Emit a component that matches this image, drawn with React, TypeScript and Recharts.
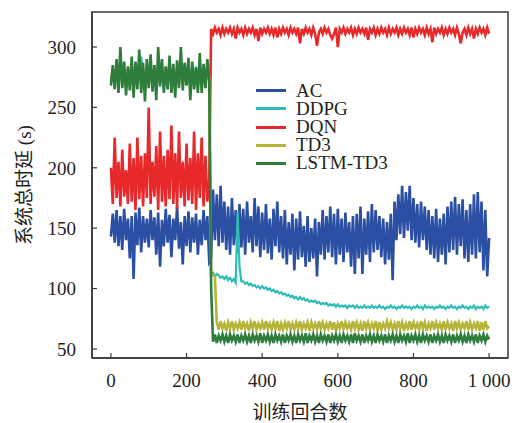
import React from 'react';
import { LineChart, Line, XAxis, YAxis, ReferenceArea, Legend } from 'recharts';

const FONT = "'Liberation Serif', 'Times New Roman', 'Noto Sans CJK SC', serif";
const TEXT = '#231f20';
const AXIS = '#3a3a3a';

const seriesNames = ['AC', 'DDPG', 'DQN', 'TD3', 'LSTM-TD3'];
const seriesColors = ['#2b50a3', '#2cbdb5', '#e8292b', '#b5b53a', '#2f7d3c'];
const seriesWidths = [2.6, 2.2, 2.6, 2.6, 2.6];
const xTicks = [0, 200, 400, 600, 800, 1000];
const yTicks = [50, 100, 150, 200, 250, 300];
const xTitle = '训练回合数';
const yTitle = '系统总时延 (s)';
const episodeStep = 5;

const acValues = [
  143, 162, 138, 165, 135, 160, 132, 166, 140, 158,
  125, 160, 108, 163, 136, 167, 130, 160, 138, 158,
  134, 165, 140, 159, 128, 163, 118, 157, 135, 166,
  138, 161, 126, 158, 140, 168, 133, 155, 120, 160,
  135, 164, 130, 159, 138, 162, 128, 157, 136, 165,
  140, 160, 122,
  125, 182, 140, 178, 135, 185, 138,
  172, 132, 168, 128, 175, 136, 165, 130, 170, 134,
  166, 128, 172, 138, 160, 130, 175, 135, 168, 126,
  163, 132, 170, 129, 158, 124, 166, 135, 172, 130,
  160, 125, 165, 120, 155, 128, 162, 115, 158, 124,
  164, 126, 152, 118, 160, 122, 150, 125, 158, 110,
  155, 128, 165, 124, 160, 130, 168, 126, 162, 120,
  166, 128, 158, 122, 163, 130, 155, 118, 160, 112,
  162, 125, 168, 112, 158, 128, 164, 122, 170, 130,
  165, 132, 160, 126, 158, 120, 155, 124, 162, 107,
  172, 140, 178, 145, 185, 142, 180, 148, 185, 140,
  175, 138, 170, 134, 172, 140, 168, 132, 165, 128,
  160, 125, 166, 122, 158, 128, 162, 120, 168, 130,
  172, 132, 176, 128, 170, 135, 174, 125, 165, 122,
  170, 128, 178, 125, 180, 130, 172, 115, 165, 110,
  142,
];

const ddpgValues = [
  270, 281, 268, 283, 272, 284, 269, 282, 267, 280,
  271, 283, 266, 282, 270, 284, 292, 281, 268, 283,
  272, 280, 269, 284, 270, 282, 267, 283, 271, 280,
  269, 284, 270, 281, 268, 283, 272, 280, 269, 282,
  271, 283, 268, 281, 270, 284, 267, 282, 271, 280,
  269, 283, 274,
  112, 113, 110, 112, 111, 109, 110,
  108, 110, 107, 109, 106, 108, 105,
  163, 118, 106,
  106, 104, 105, 103, 104, 102, 103, 101, 102, 100,
  102, 100, 101, 99, 100, 98, 99, 97, 98, 96,
  97, 95, 96, 94, 95, 93, 94, 92, 93, 91,
  93, 91, 92, 90, 91, 89, 90, 89, 90, 88,
  89, 87, 88, 87, 88, 86, 87, 86, 87, 85,
  87, 85, 86, 85, 86, 84, 86, 85, 86, 84,
  86, 84, 85, 84, 86, 84, 85, 84, 86, 84,
  85, 84, 86, 84, 85, 83, 85, 84, 86, 84,
  85, 83, 85, 84, 86, 84, 85, 84, 85, 83,
  85, 84, 86, 84, 85, 83, 86, 84, 85, 84,
  85, 83, 85, 84, 86, 84, 85, 83, 85, 84,
  86, 84, 85, 83, 85, 84, 86, 84, 85, 83,
  85, 84, 86, 83, 85, 84, 85, 83, 86, 84,
  85,
];

const dqnValues = [
  200, 170, 225, 175, 205, 168, 215, 176, 198, 170,
  220, 172, 208, 165, 225, 174, 210, 168, 212, 175,
  250, 170, 205, 176, 218, 165, 230, 172, 210, 168,
  215, 174, 235, 170, 212, 166, 230, 175, 205, 168,
  220, 173, 208, 170, 230, 165, 212, 175, 225, 168,
  210, 172, 190,
  315, 311, 316, 312, 315, 310, 316, 311, 315, 312,
  316, 311, 315, 307, 316, 312, 315, 310, 316, 311,
  315, 312, 316, 310, 315, 305, 316, 311, 315, 312,
  316, 311, 315, 310, 316, 308, 315, 311, 316, 312,
  315, 310, 316, 312, 315, 311, 316, 303, 315, 311,
  316, 312, 315, 310, 316, 311, 301, 312, 315, 311,
  316, 312, 315, 310, 307, 311, 316, 300, 315, 312,
  316, 311, 315, 312, 316, 310, 315, 311, 316, 312,
  315, 311, 316, 306, 315, 312, 316, 310, 315, 311,
  316, 312, 315, 310, 316, 311, 315, 312, 316, 310,
  315, 311, 316, 312, 315, 310, 316, 308, 315, 311,
  316, 312, 315, 310, 316, 311, 315, 304, 316, 311,
  315, 312, 316, 310, 315, 311, 316, 312, 315, 310,
  316, 311, 303, 312, 315, 310, 316, 311, 315, 307,
  315, 311, 316, 312, 315, 310, 316, 311,
];

const td3Values = [
  272, 282, 269, 284, 270, 283, 268, 281, 270, 282,
  269, 284, 267, 283, 271, 282, 270, 283, 266, 281,
  270, 282, 268, 283, 269, 281, 270, 284, 268, 282,
  271, 283, 269, 282, 267, 281, 270, 283, 268, 284,
  270, 282, 269, 283, 271, 281, 268, 282, 270, 283,
  268, 281, 275,
  112, 111, 110,
  72, 66, 73, 67, 71, 65, 72, 67, 73, 66,
  71, 67, 72, 66, 73, 67, 71, 65, 72, 67,
  73, 66, 71, 67, 72, 66, 73, 67, 71, 66,
  72, 67, 73, 65, 71, 66, 72, 67, 73, 66,
  71, 66, 72, 67, 73, 66, 71, 67, 72, 65,
  72, 67, 71, 66, 73, 67, 72, 66, 71, 67,
  73, 66, 72, 65, 71, 67, 73, 66, 72, 67,
  71, 66, 73, 67, 72, 66, 71, 65, 73, 67,
  72, 66, 71, 67, 73, 65, 72, 66, 71, 67,
  73, 67, 72, 66, 71, 66, 73, 67, 72, 65,
  71, 67, 73, 66, 72, 67, 71, 66, 73, 67,
  72, 65, 71, 67, 73, 66, 72, 67, 71, 66,
  73, 66, 72, 67, 71, 65, 73, 67, 72, 66,
  71, 67, 73, 66, 72, 66, 71, 67, 73, 65,
  72, 66, 73, 67, 69,
];

const lstmTd3Values = [
  268, 285, 265, 290, 262, 300, 266, 288, 260, 284,
  264, 292, 258, 288, 265, 298, 262, 287, 255, 290,
  266, 294, 263, 285, 256, 300, 268, 290, 262, 284,
  265, 293, 262, 286, 258, 289, 266, 300, 264, 287,
  268, 291, 256, 288, 265, 283, 262, 295, 262, 286,
  266, 290, 272,
  100,
  56, 62, 55, 61, 57, 62, 56, 61, 55, 62,
  57, 61, 56, 62, 55, 61, 57, 62, 56, 61,
  55, 62, 57, 61, 56, 63, 55, 61, 57, 62,
  56, 61, 55, 62, 57, 61, 56, 62, 55, 61,
  57, 62, 56, 61, 55, 62, 57, 61, 56, 63,
  55, 61, 57, 62, 56, 61, 55, 62, 57, 61,
  56, 62, 55, 61, 57, 62, 56, 61, 55, 62,
  57, 61, 56, 62, 55, 63, 57, 61, 56, 62,
  55, 61, 57, 62, 56, 61, 55, 62, 57, 61,
  56, 62, 55, 61, 57, 62, 56, 61, 55, 62,
  57, 61, 56, 63, 55, 61, 57, 62, 56, 61,
  55, 62, 57, 61, 56, 62, 55, 61, 57, 62,
  56, 61, 55, 62, 57, 61, 56, 62, 55, 61,
  57, 62, 56, 61, 55, 62, 57, 61, 56, 62,
  55, 61, 57, 62, 56, 61, 58,
];

const seriesValues = [acValues, ddpgValues, dqnValues, td3Values, lstmTd3Values];

const data = acValues.map((_, i) => {
  const row: Record<string, number> = { ep: i * episodeStep };
  seriesNames.forEach((name, s) => {
    row[name] = seriesValues[s][i];
  });
  return row;
});

const renderLegend = () => (
  <div style={{ fontFamily: FONT, fontSize: 19, color: TEXT }}>
    {seriesNames.map((n, i) => (
      <div key={n} style={{ display: 'flex', alignItems: 'center', height: 18.2 }}>
        <div style={{ width: 30, height: 3, background: seriesColors[i], marginRight: 10 }} />
        <span style={{ lineHeight: '18.2px', whiteSpace: 'nowrap' }}>{n}</span>
      </div>
    ))}
  </div>
);

const YTitle = (props: any) => {
  const vb = props.viewBox || { x: 0, y: 12, width: 92, height: 346 };
  const cx = 31;
  const cy = vb.y + vb.height / 2;
  return (
    <text x={cx} y={cy} transform={`rotate(-90 ${cx} ${cy})`} textAnchor="middle"
      fontFamily={FONT} fontSize={19} fill={TEXT}>{yTitle}</text>
  );
};

const XTitle = (props: any) => {
  const vb = props.viewBox || { x: 92, y: 358, width: 416, height: 60 };
  const cx = vb.x + vb.width / 2;
  return (
    <text x={cx} y={419} textAnchor="middle" fontFamily={FONT} fontSize={19} fill={TEXT}>{xTitle}</text>
  );
};

export default function App() {
  return (
    <div style={{ position: 'fixed', left: 0, top: 0, width: 517, height: 423, background: '#fff' }}>
      <LineChart width={517} height={423} data={data} margin={{ top: 12, right: 9, bottom: 5, left: 0 }}>
        <XAxis
          dataKey="ep"
          type="number"
          domain={[-50, 1050]}
          ticks={xTicks}
          allowDataOverflow
          height={60}
          tickSize={-5}
          tickMargin={21}
          tickFormatter={(v: number) => (v === 1000 ? '1 000' : String(v))}
          tick={{ fontSize: 19, fill: TEXT, fontFamily: FONT }}
          axisLine={{ stroke: AXIS, strokeWidth: 1.5 }}
          tickLine={{ stroke: AXIS, strokeWidth: 1.2 }}
          label={(p: any) => <XTitle {...p} />}
        />
        <YAxis
          type="number"
          domain={[42.5, 329]}
          ticks={yTicks}
          allowDataOverflow
          width={92}
          tickSize={-5}
          tickMargin={21}
          tick={{ fontSize: 19, fill: TEXT, fontFamily: FONT }}
          axisLine={{ stroke: AXIS, strokeWidth: 1.5 }}
          tickLine={{ stroke: AXIS, strokeWidth: 1.2 }}
          label={(p: any) => <YTitle {...p} />}
        />
        <ReferenceArea x1={-50} x2={1050} y1={42.5} y2={329} fill="none" fillOpacity={0}
          stroke={AXIS} strokeWidth={1.5} ifOverflow="visible" />
        {seriesNames.map((name, i) => (
          <Line
            key={name}
            type="linear"
            dataKey={name}
            stroke={seriesColors[i]}
            strokeWidth={seriesWidths[i]}
            strokeLinejoin="miter"
            dot={false}
            activeDot={false}
            isAnimationActive={false}
          />
        ))}
        <Legend
          layout="vertical"
          align="center"
          verticalAlign="middle"
          content={renderLegend}
          wrapperStyle={{ left: 256, top: 81.6, width: 'auto', height: 'auto' }}
        />
      </LineChart>
    </div>
  );
}
